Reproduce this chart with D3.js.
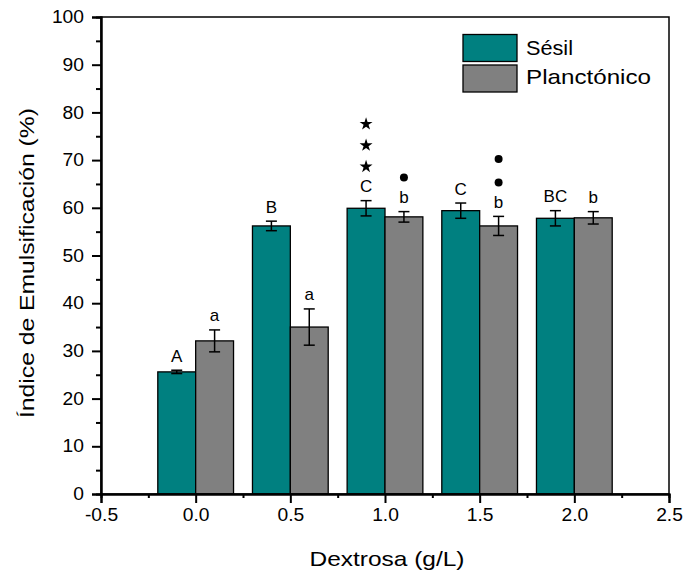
<!DOCTYPE html>
<html><head><meta charset="utf-8">
<script src="https://cdn.jsdelivr.net/npm/d3@7"></script>
<style>body{margin:0;background:#fff}text{font-family:"Liberation Sans",Arial,sans-serif}</style>
</head><body><svg id="c" width="686" height="573"></svg>
<script>
const categories = [0.0, 0.5, 1.0, 1.5, 2.0];
const sesil = [25.6, 56.2, 59.9, 59.4, 57.8];
const sesilErr = [0.35, 1.0, 1.6, 1.6, 1.6];
const planc = [32.1, 35.0, 58.1, 56.2, 57.9];
const plancErr = [2.3, 3.8, 1.1, 2.0, 1.3];
const sesilLabels = ["A", "B", "C", "C", "BC"];
const plancLabels = ["a", "a", "b", "b", "b"];
const sesilMarks = [0, 0, 3, 0, 0];   // stars
const plancMarks = [0, 0, 1, 2, 0];   // dots
const xTicks = [-0.5, 0.0, 0.5, 1.0, 1.5, 2.0, 2.5];
const yTicks = [0, 10, 20, 30, 40, 50, 60, 70, 80, 90, 100];
const barWidth = 0.2;

const svg = d3.select("#c");
const L = 101, R = 669, T = 17, B = 494;
const x = d3.scaleLinear().domain([-0.5, 2.5]).range([L, R]);
const y = d3.scaleLinear().domain([0, 100]).range([B, T]);

const g = svg.append("g");
function drawBars(vals, off, color) {
  vals.forEach((v, i) => {
    const x0 = x(categories[i] + off), x1 = x(categories[i] + off + barWidth);
    g.append("rect").attr("x", x0).attr("y", y(v)).attr("width", x1 - x0).attr("height", y(0) - y(v))
      .attr("fill", color).attr("stroke", "#000").attr("stroke-width", 1.3);
  });
}
drawBars(sesil, -barWidth, "#008080");
drawBars(planc, 0, "#808080");

function drawErr(vals, errs, off, labels, marks, sym) {
  vals.forEach((v, i) => {
    const cx = x(categories[i] + off + barWidth / 2);
    const yt = y(v + errs[i]), yb = y(v - errs[i]);
    g.append("line").attr("x1", cx).attr("x2", cx).attr("y1", yt).attr("y2", yb).attr("stroke", "#000").attr("stroke-width", 1.5);
    [yt, yb].forEach(yy => g.append("line").attr("x1", cx - 5.5).attr("x2", cx + 5.5).attr("y1", yy).attr("y2", yy).attr("stroke", "#000").attr("stroke-width", 1.5));
    const ly = yt - 8.5;
    g.append("text").attr("x", cx).attr("y", ly).attr("text-anchor", "middle").attr("font-size", 17).attr("fill", "#000").text(labels[i]);
    for (let k = 0; k < marks[i]; k++) {
      if (sym === "star") {
        const my = ly - 26.5 - k * 21.3;
        g.append("path").attr("d", d3.symbol().type(d3.symbolStar).size(52)()).attr("transform", `translate(${cx},${my + 1})`).attr("fill", "#000");
      } else {
        const my = ly - 25.5 - k * 23.5;
        g.append("circle").attr("cx", cx).attr("cy", my).attr("r", 4).attr("fill", "#000");
      }
    }
  });
}
drawErr(sesil, sesilErr, -barWidth, sesilLabels, sesilMarks, "star");
drawErr(planc, plancErr, 0, plancLabels, plancMarks, "dot");

// frame
svg.append("rect").attr("x", L).attr("y", T).attr("width", R - L).attr("height", B - T).attr("fill", "none").attr("stroke", "#000").attr("stroke-width", 1.5);

// axes
const fmtX = d => d3.format(".1f")(d).replace("−", "-");
const xAxis = svg.append("g").attr("transform", `translate(0,${B})`)
  .call(d3.axisBottom(x).tickValues(xTicks).tickFormat(fmtX).tickSize(9).tickPadding(6));
const xMinor = svg.append("g").attr("transform", `translate(0,${B})`)
  .call(d3.axisBottom(x).tickValues(d3.range(-0.25, 2.5, 0.5)).tickFormat("").tickSize(4));
const yAxis = svg.append("g").attr("transform", `translate(${L},0)`)
  .call(d3.axisLeft(y).tickValues(yTicks).tickSize(9).tickPadding(8));
const yMinor = svg.append("g").attr("transform", `translate(${L},0)`)
  .call(d3.axisLeft(y).tickValues(d3.range(5, 100, 10)).tickFormat("").tickSize(5));
[xAxis, xMinor, yAxis, yMinor].forEach(a => {
  a.select(".domain").attr("stroke-width", 2);
  a.selectAll(".tick line").attr("stroke-width", 2);
  a.selectAll("text").attr("font-size", 17.5).attr("fill", "#000").style("font-family", "Liberation Sans, Arial, sans-serif");
});
[xAxis, yAxis].forEach(a => a.selectAll(".tick text").each(function () {
  const w = this.getComputedTextLength();
  d3.select(this).attr("textLength", w * 1.1).attr("lengthAdjust", "spacingAndGlyphs");
}));

svg.append("text").attr("x", 387).attr("y", 566).attr("text-anchor", "middle").attr("font-size", 21)
  .attr("textLength", 155).attr("lengthAdjust", "spacingAndGlyphs").text("Dextrosa (g/L)");
svg.append("text").attr("transform", `translate(34,263) rotate(-90)`).attr("text-anchor", "middle").attr("font-size", 20)
  .attr("textLength", 310).attr("lengthAdjust", "spacingAndGlyphs").text("Índice de Emulsificación (%)");

// legend
const legNames = ["Sésil", "Planctónico"];
const legColors = ["#008080", "#808080"];
const legWidths = [47, 125];
legNames.forEach((n, i) => {
  svg.append("rect").attr("x", 463).attr("y", 34.5 + i * 30.5).attr("width", 54).attr("height", 27).attr("fill", legColors[i]).attr("stroke", "#000").attr("stroke-width", 1.3);
  svg.append("text").attr("x", 526).attr("y", 54.5 + i * 29).attr("font-size", 21)
    .attr("textLength", legWidths[i]).attr("lengthAdjust", "spacingAndGlyphs").text(n);
});
</script></body></html>
